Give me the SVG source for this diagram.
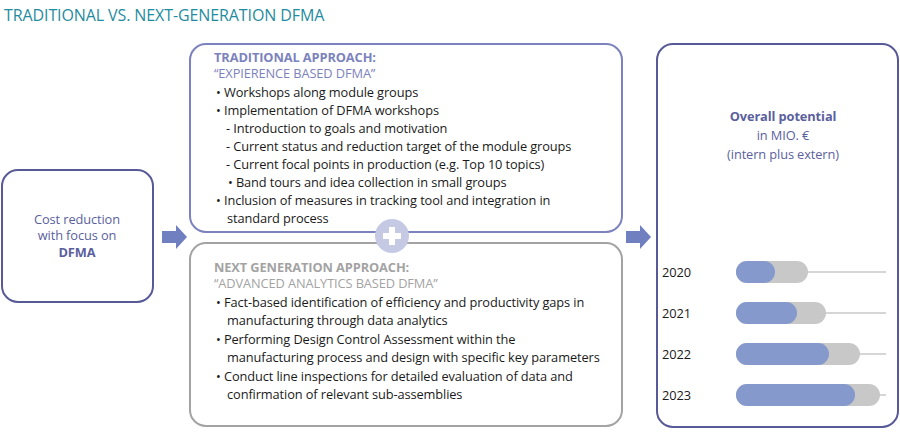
<svg xmlns="http://www.w3.org/2000/svg" width="900" height="434" viewBox="0 0 900 434">
<style>
text{font-family:"Open Sans","Liberation Sans",sans-serif;font-size:12.8px;fill:#1a1a1a;letter-spacing:-0.1px}
.h{font-weight:bold;fill:#7c82bd}
.hg{font-weight:bold;fill:#a3a3a3}
.sg{fill:#a3a3a3}
.sb{fill:#7c82bd}
.c{text-anchor:middle}
.gray{fill:#c8c8c8}
.blue{fill:#8599cc}
.ln{stroke:#c8c8c8;stroke-width:1.5}
</style>
<rect width="900" height="434" fill="#fff"/>
<text x="4" y="21" style="font-size:16px;fill:#1f8ca0">TRADITIONAL VS. NEXT-GENERATION DFMA</text>
<g id="left">
<rect x="2" y="170" width="151" height="132" rx="16" fill="#fff" stroke="#575a96" stroke-width="2"/>
<text x="77" y="224" class="c" style="fill:#5b5f9e">Cost reduction</text>
<text x="77" y="240" class="c" style="fill:#5b5f9e">with focus on</text>
<text x="77" y="257" class="c" style="font-weight:bold;fill:#5b5f9e">DFMA</text>
</g>
<g id="connectors" fill="#6f7fc0">
<polygon points="162,231 176,231 176,225 187,237 176,249 176,243 162,243"/>
<polygon points="626,231 640,231 640,225 651,237 640,249 640,243 626,243"/>
</g>
<g id="traditional">
<rect x="190" y="44" width="432" height="188" rx="16" fill="#fff" stroke="#7c82bd" stroke-width="2"/>
<text x="214" y="62" class="h">TRADITIONAL APPROACH:</text>
<text x="214" y="78" class="sb">“EXPIERENCE BASED DFMA”</text>
<text x="216" y="97">•  Workshops along module groups</text>
<text x="216" y="115">•  Implementation of DFMA workshops</text>
<text x="226" y="133">-  Introduction to goals and motivation</text>
<text x="226" y="151">-  Current status and reduction target of the module groups</text>
<text x="226" y="169">-  Current focal points in production (e.g. Top 10 topics)</text>
<text x="228" y="187">•  Band tours and idea collection in small groups</text>
<text x="216" y="205">•  Inclusion of measures in tracking tool and integration in</text>
<text x="227" y="223">standard process</text>
</g>
<g id="nextgen">
<rect x="190" y="243" width="432" height="183" rx="16" fill="#fff" stroke="#a3a3a3" stroke-width="2"/>
<text x="214" y="272" class="hg">NEXT GENERATION APPROACH:</text>
<text x="214" y="288" class="sg">“ADVANCED ANALYTICS  BASED DFMA”</text>
<text x="216" y="307">•  Fact-based identification of efficiency and productivity gaps in</text>
<text x="227" y="325">manufacturing through data analytics</text>
<text x="216" y="344">•  Performing Design Control Assessment within the</text>
<text x="227" y="362">manufacturing process and design with specific key parameters</text>
<text x="216" y="381">•  Conduct line inspections for detailed evaluation of data and</text>
<text x="227" y="399">confirmation of relevant sub-assemblies</text>
</g>
<g id="plus">
<circle cx="392" cy="236" r="17" fill="#c5c9e3"/>
<rect x="383" y="233" width="18" height="6" fill="#fff"/>
<rect x="389" y="227" width="6" height="18" fill="#fff"/>
</g>
<g id="potential">
<rect x="657" y="44" width="241" height="383" rx="16" fill="#fff" stroke="#575a96" stroke-width="2"/>
<text x="783" y="121" class="c" style="font-weight:bold;fill:#5b5f9e">Overall potential</text>
<text x="783" y="140" class="c" style="fill:#5b5f9e">in MIO. €</text>
<text x="783" y="159" class="c" style="fill:#5b5f9e">(intern plus extern)</text>
<text x="662" y="277">2020</text>
<text x="662" y="318">2021</text>
<text x="662" y="359">2022</text>
<text x="662" y="400">2023</text>
<line x1="800" y1="272" x2="886" y2="272" class="ln"/>
<line x1="820" y1="313" x2="886" y2="313" class="ln"/>
<line x1="850" y1="354" x2="886" y2="354" class="ln"/>
<line x1="870" y1="395" x2="886" y2="395" class="ln"/>
<rect x="736" y="261" width="72" height="22" rx="11" class="gray"/>
<rect x="736" y="261" width="39" height="22" rx="11" class="blue"/>
<rect x="736" y="302" width="90" height="22" rx="11" class="gray"/>
<rect x="736" y="302" width="61" height="22" rx="11" class="blue"/>
<rect x="736" y="343" width="124" height="22" rx="11" class="gray"/>
<rect x="736" y="343" width="93" height="22" rx="11" class="blue"/>
<rect x="736" y="384" width="144" height="22" rx="11" class="gray"/>
<rect x="736" y="384" width="119" height="22" rx="11" class="blue"/>
</g>
</svg>
